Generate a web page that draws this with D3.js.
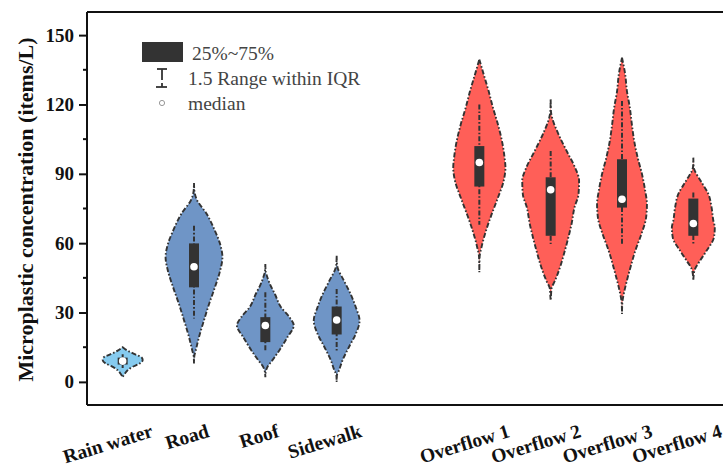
<!DOCTYPE html>
<html>
<head>
<meta charset="utf-8">
<script src="https://cdn.jsdelivr.net/npm/d3@7/dist/d3.min.js"></script>
<style>
  html, body { margin: 0; padding: 0; background: #fff; }
  svg { display: block; }
  text { font-family: "Liberation Serif", "Times New Roman", serif; }
</style>
</head>
<body>
<svg id="chart" width="723" height="469"></svg>
<script>
// Sampling sites, in plotting order (a blank slot separates runoff from overflow)
const categories = ["Rain water", "Road", "Roof", "Sidewalk", "", "Overflow 1", "Overflow 2", "Overflow 3", "Overflow 4"];
const groups = ["Rain water", "Road", "Roof", "Sidewalk", "Overflow 1", "Overflow 2", "Overflow 3", "Overflow 4"];

// Box statistics (items/L)
const q1 =         [7.5, 40.9, 17.2, 20.5, 84.5, 63.2, 75.4, 63.2];
const medians =    [9.0, 49.8, 24.4, 26.8, 94.9, 83.1, 79.0, 68.5];
const q3 =         [10.5, 59.9, 28.0, 32.6, 102.0, 88.5, 96.3, 79.3];
const whiskerLow = [6.0, 27.4, 13.0, 13.6, 68.0, 59.6, 59.7, 59.6];
const whiskerHigh= [12.0, 67.5, 38.8, 40.2, 120.0, 99.9, 121.5, 81.9];

// Kernel density profiles: [concentration, relative density]
const densityRainWater = [[15,0],[13.5,0.17],[12,0.41],[10.5,0.66],[9.5,0.69],[8,0.59],[6.5,0.34],[5,0.17],[3.5,0.07],[2,0]];
const densityRoad = [[86,0],[83,0.01],[79,0.09],[72.6,0.44],[65.4,0.72],[59.6,0.9],[53.9,0.98],[48.1,0.9],[40.9,0.72],[33.7,0.52],[26.5,0.34],[19.3,0.17],[13.6,0.06],[11,0.01],[8,0]];
const densityRoof = [[51,0],[48,0.01],[46,0.05],[42,0.17],[38,0.33],[32.3,0.54],[28,0.83],[24.4,0.98],[19.3,0.76],[13.6,0.48],[9.3,0.24],[6.4,0.07],[4,0.01],[2,0]];
const densitySidewalk = [[54.6,0],[51,0.01],[49.5,0.03],[43.8,0.25],[38,0.48],[32.3,0.66],[26.5,0.79],[20.8,0.66],[15,0.42],[9.3,0.2],[5,0.08],[3,0.01],[0,0]];
const densityOverflow1 = [[139.5,0],[133,0.15],[125.8,0.32],[118.6,0.47],[111.4,0.64],[104.2,0.78],[97,0.87],[92.7,0.9],[87,0.84],[79,0.62],[72,0.41],[65,0.22],[58,0.07],[54,0.01],[47.4,0]];
const densityOverflow2 = [[122.2,0],[117,0.01],[114.3,0.05],[107.1,0.27],[99.9,0.55],[92.7,0.84],[87,0.98],[81.2,0.96],[75.4,0.82],[68.3,0.72],[64,0.64],[56.8,0.49],[49.5,0.32],[43.8,0.15],[40.4,0.03],[37,0.01],[35.2,0]];
const densityOverflow3 = [[140.2,0],[133,0.11],[125.8,0.17],[118.6,0.27],[111.4,0.34],[104.2,0.42],[97,0.54],[89.8,0.69],[82.6,0.8],[77,0.86],[71,0.83],[64,0.67],[56.8,0.46],[49.5,0.29],[42.4,0.14],[38,0.06],[34,0.01],[29.4,0]];
const densityOverflow4 = [[97,0],[93,0.01],[92,0.03],[87,0.25],[81.2,0.52],[75.4,0.63],[69.7,0.69],[66.8,0.74],[62.5,0.71],[56.8,0.46],[52.4,0.23],[48.9,0.06],[46,0.01],[43.8,0]];
const densities = [densityRainWater, densityRoad, densityRoof, densitySidewalk,
                   densityOverflow1, densityOverflow2, densityOverflow3, densityOverflow4];

// Axis ticks
const yTicks = [0, 30, 60, 90, 120, 150];
const yMinorTicks = [15, 45, 75, 105, 135];

// Legend entries
const legendLabels = ["25%~75%", "1.5 Range within IQR", "median"];

const palette = ["#86CBEF", "#6F95C6", "#6F95C6", "#6F95C6", "#FF5F58", "#FF5F58", "#FF5F58", "#FF5F58"];

const svg = d3.select("#chart");
const plotLeft = 87, plotRight = 729, plotTop = 12, plotBottom = 405;

const x = d3.scaleBand().domain(categories).range([plotLeft, plotRight]);
const y = d3.scaleLinear().domain([-10, 160]).range([plotBottom, plotTop]);
const w = d3.scaleLinear().domain([0, 1]).range([0, 29]);
const color = d3.scaleOrdinal().domain(groups).range(palette);
const cx = name => x(name) + x.bandwidth() / 2;

const ink = "#333333";
const dashDot = "5,2,1.6,2";

// Violins
const area = d3.area()
  .curve(d3.curveMonotoneY)
  .y(d => y(d[0]));

groups.forEach((g, i) => {
  const c = cx(g);
  const pts = densities[i].slice().sort((a, b) => b[0] - a[0]);
  svg.append("path")
    .datum(pts)
    .attr("d", area.x0(d => c - w(d[1])).x1(d => c + w(d[1])))
    .attr("fill", color(g))
    .attr("stroke", ink)
    .attr("stroke-width", 1.9)
    .attr("stroke-dasharray", dashDot);
});

// Whiskers, boxes and medians
const boxW = 10;
groups.forEach((g, i) => {
  const c = cx(g);
  svg.append("line")
    .attr("x1", c).attr("x2", c)
    .attr("y1", y(whiskerHigh[i])).attr("y2", y(whiskerLow[i]))
    .attr("stroke", ink).attr("stroke-width", 2)
    .attr("stroke-dasharray", dashDot);
  svg.append("rect")
    .attr("x", c - boxW / 2).attr("width", boxW)
    .attr("y", y(q3[i])).attr("height", y(q1[i]) - y(q3[i]))
    .attr("fill", ink);
  svg.append("circle")
    .attr("cx", c).attr("cy", y(medians[i])).attr("r", 3.8)
    .attr("fill", "#fff");
});

// Frame
const frame = svg.append("g").attr("stroke", "#111").attr("stroke-width", 2).attr("fill", "none");
frame.append("line").attr("x1", plotLeft).attr("x2", plotRight).attr("y1", plotTop).attr("y2", plotTop);
frame.append("line").attr("x1", plotLeft).attr("x2", plotRight).attr("y1", plotBottom).attr("y2", plotBottom);

// Y axis
const yAxis = svg.append("g")
  .attr("transform", `translate(${plotLeft},0)`)
  .call(d3.axisLeft(y).tickValues(yTicks).tickSize(8).tickPadding(5).tickSizeOuter(0));
yAxis.select(".domain").attr("stroke", "#111").attr("stroke-width", 2)
  .attr("d", `M0,${plotTop}V${plotBottom}`);
yAxis.selectAll(".tick line").attr("stroke", "#111").attr("stroke-width", 2);
yAxis.selectAll(".tick text")
  .attr("font-family", "Liberation Serif, Times New Roman, serif")
  .attr("font-weight", "bold").attr("font-size", 19).attr("fill", "#111");

svg.append("g")
  .selectAll("line").data(yMinorTicks).join("line")
  .attr("x1", plotLeft - 4).attr("x2", plotLeft)
  .attr("y1", d => y(d)).attr("y2", d => y(d))
  .attr("stroke", "#111").attr("stroke-width", 2);

svg.append("text")
  .attr("transform", `translate(33,${(plotTop + plotBottom) / 2 + 1}) rotate(-90)`)
  .attr("text-anchor", "middle")
  .attr("font-weight", "bold").attr("font-size", 22).attr("fill", "#111")
  .text("Microplastic concentration (items/L)");

// X labels, tilted
const tilt = 17, rad = tilt * Math.PI / 180;
groups.forEach(g => {
  const t = svg.append("text")
    .attr("text-anchor", "middle")
    .attr("dy", "0.35em")
    .attr("font-weight", "bold").attr("font-size", 19.5).attr("fill", "#111")
    .text(g);
  const L = t.node().getComputedTextLength();
  const px = Math.min(cx(g) - 0.16 * L, 723 - (L / 2) * Math.cos(rad) - 2);
  const py = 421 + (L / 2) * Math.sin(rad) + 9;
  t.attr("transform", `translate(${px},${py}) rotate(${-tilt})`);
});

// Legend
const lg = svg.append("g");
const legendText = "#444";
lg.append("rect").attr("x", 142).attr("y", 42).attr("width", 41).attr("height", 20).attr("fill", ink);
const tg = lg.append("g").attr("stroke", ink).attr("stroke-width", 1.8);
tg.append("line").attr("x1", 157).attr("x2", 167).attr("y1", 69).attr("y2", 69);
tg.append("line").attr("x1", 162).attr("x2", 162).attr("y1", 69).attr("y2", 80);
tg.append("line").attr("x1", 162).attr("x2", 162).attr("y1", 83).attr("y2", 87);
tg.append("line").attr("x1", 156).attr("x2", 167).attr("y1", 87).attr("y2", 87);
lg.append("circle").attr("cx", 162).attr("cy", 103).attr("r", 2.6)
  .attr("fill", "#fff").attr("stroke", "#999").attr("stroke-width", 1);
lg.selectAll("text.leg").data(legendLabels).join("text")
  .attr("class", "leg")
  .attr("x", (d, i) => i === 0 ? 192 : 188)
  .attr("y", (d, i) => 60 + i * 25)
  .attr("font-size", 19.5).attr("fill", legendText)
  .text(d => d);
</script>
</body>
</html>
